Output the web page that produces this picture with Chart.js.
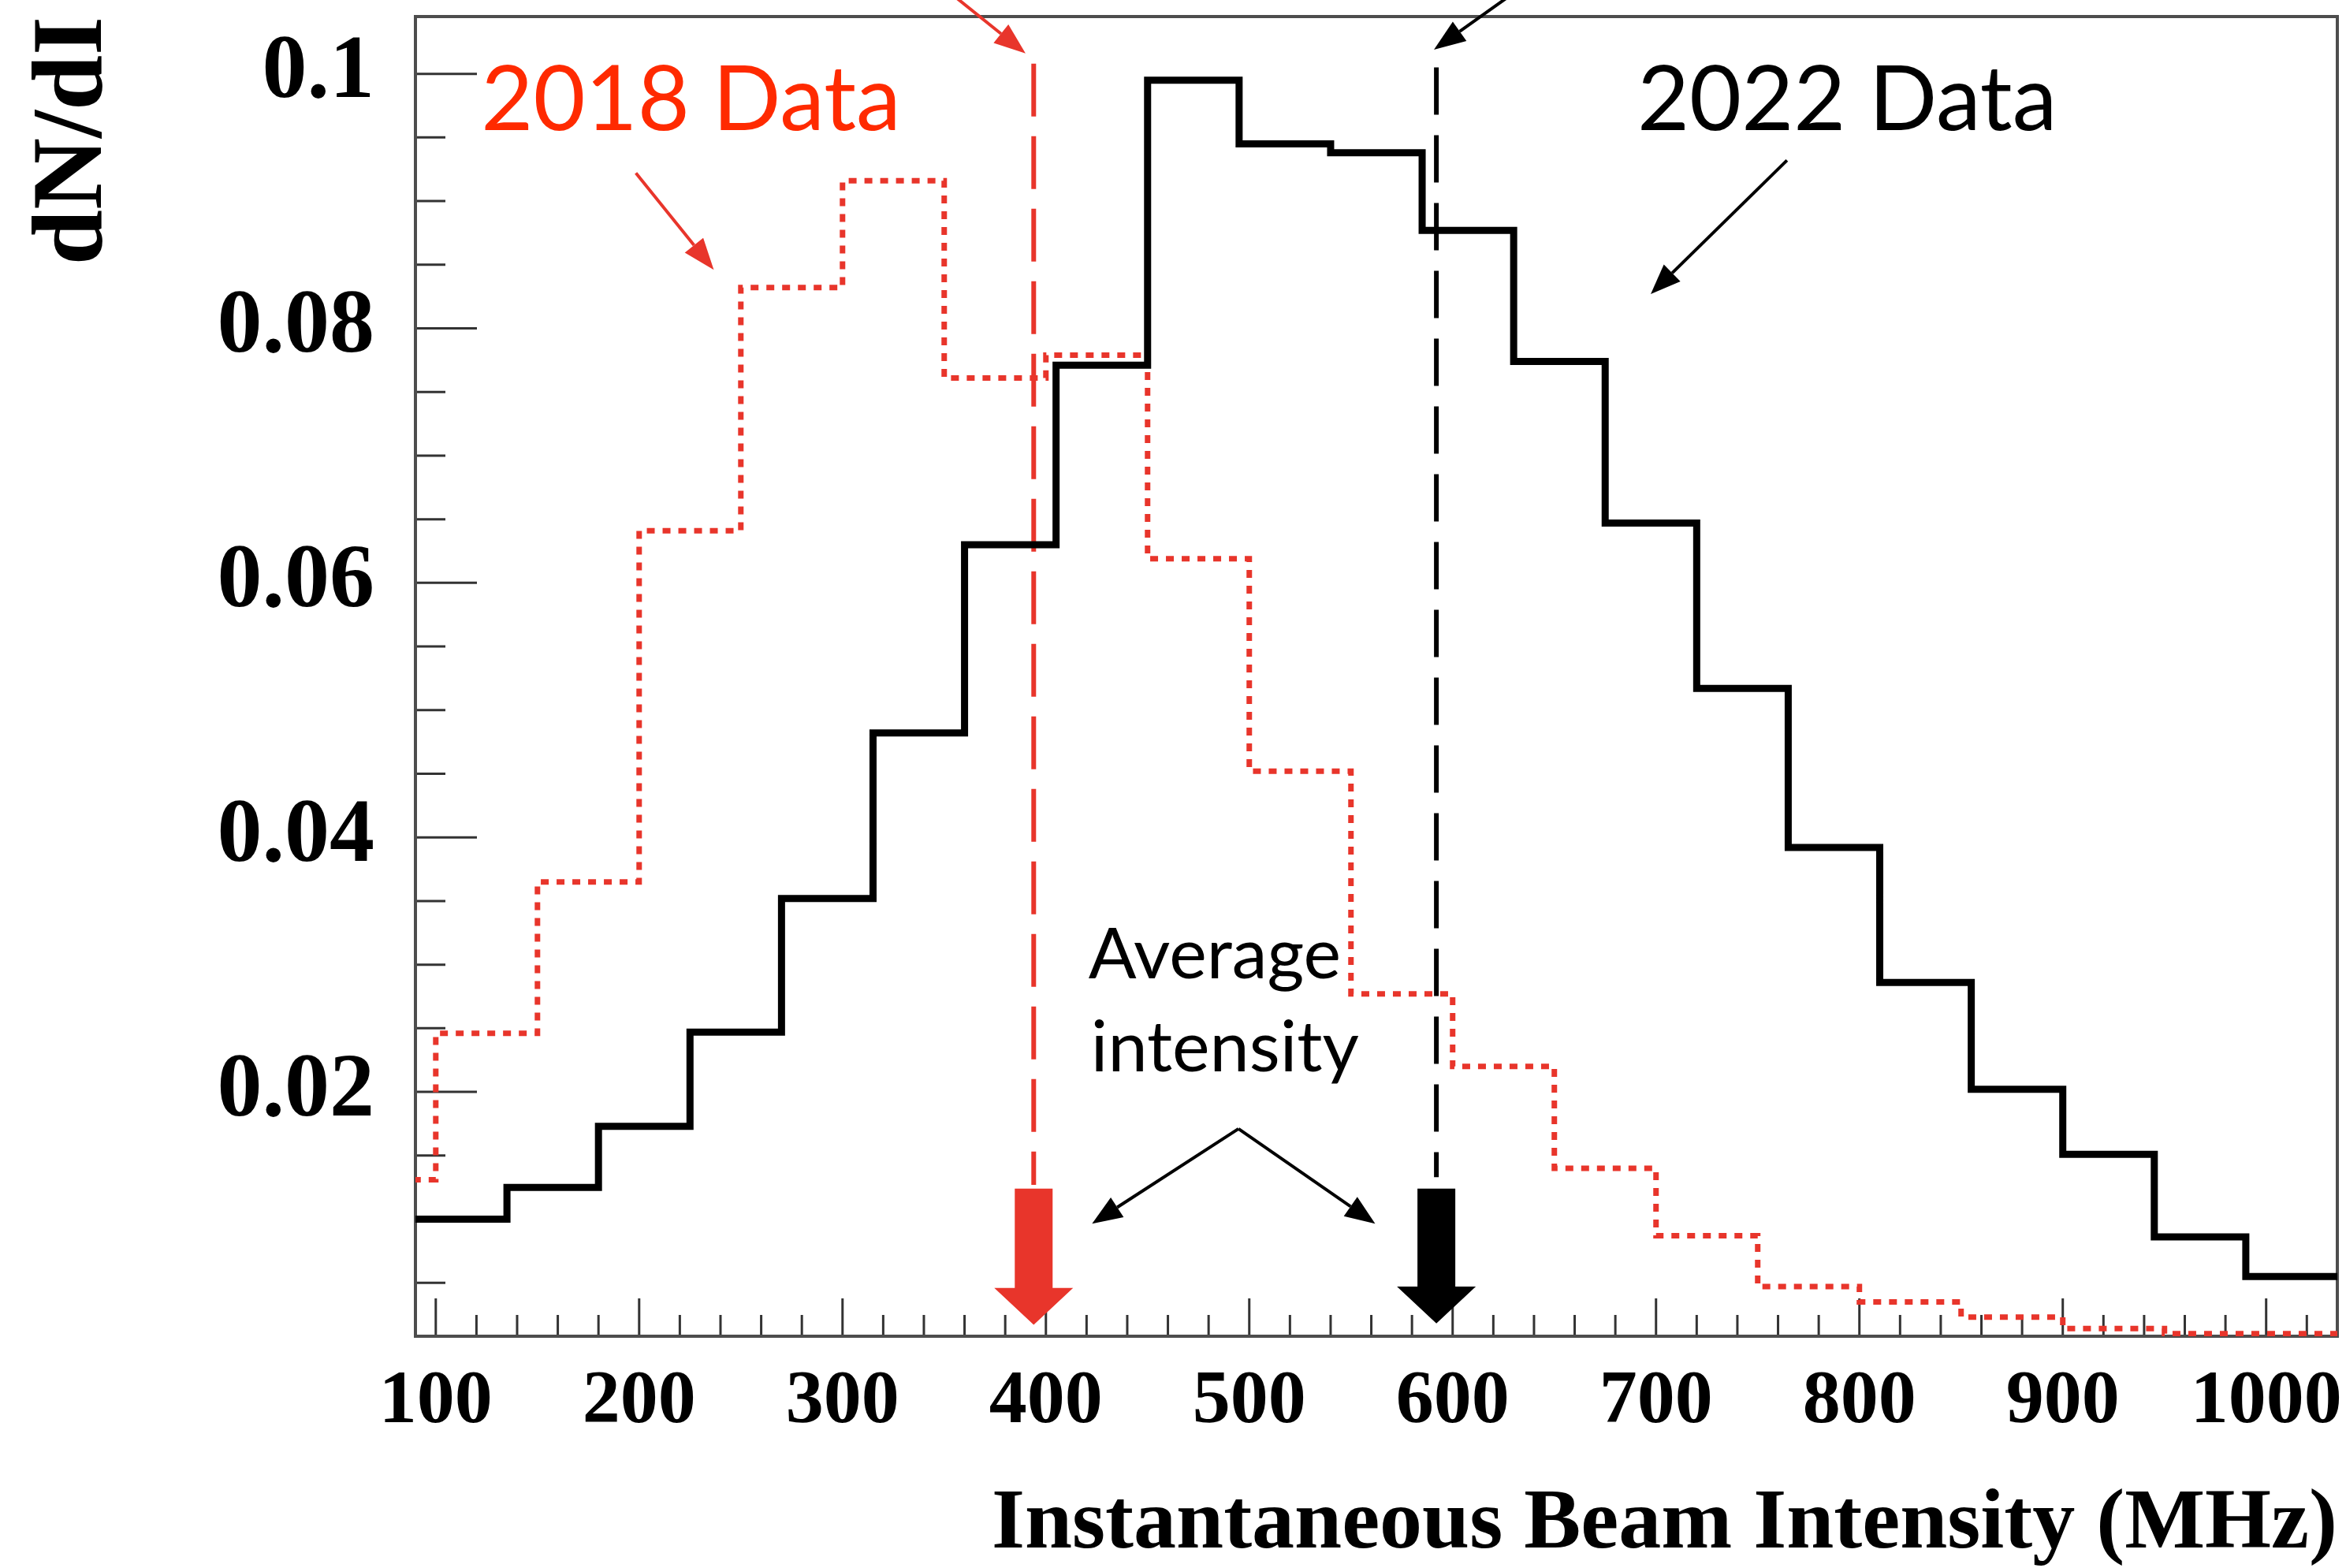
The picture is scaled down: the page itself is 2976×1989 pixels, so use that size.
<!DOCTYPE html>
<html>
<head>
<meta charset="utf-8">
<title>Instantaneous beam intensity</title>
<script src="https://cdn.jsdelivr.net/npm/chart.js@4.4.1/dist/chart.umd.min.js"></script>
<style>
  html, body { margin: 0; padding: 0; background: #fff; }
  #wrap { width: 2976px; height: 1989px; }
</style>
</head>
<body>
<div id="wrap"><canvas id="intensityChart"></canvas></div>
<script>
// 2022 run, 45 MHz bins
const binEdges2022 = [90, 135, 180, 225, 270, 315, 360, 405, 450, 495, 540, 585, 630, 675, 720, 765, 810, 855, 900, 945, 990, 1035];
const dNdI2022 = [0.0100, 0.0125, 0.0173, 0.0247, 0.0352, 0.0482, 0.0630, 0.0771, 0.0995, 0.0945, 0.0938,
                  0.0877, 0.0774, 0.0647, 0.0517, 0.0392, 0.0286, 0.0202, 0.0151, 0.0086, 0.0055];

// 2018 run, 50 MHz bins
const binEdges2018 = [50, 100, 150, 200, 250, 300, 350, 400, 450, 500, 550, 600, 650, 700, 750, 800, 850, 900, 950, 1000, 1050];
const dNdI2018 = [0.0131, 0.0246, 0.0365, 0.0641, 0.0832, 0.0916, 0.0761, 0.0779, 0.0619, 0.0452,
                  0.0277, 0.0220, 0.0140, 0.0087, 0.0047, 0.0035, 0.0023, 0.0014, 0.0010, 0.0010];

// mean intensity of each run (MHz)
const meanIntensity2018 = 394;
const meanIntensity2022 = 592;

const xTickValues = [100, 200, 300, 400, 500, 600, 700, 800, 900, 1000];
const xTickLabels = ['100', '200', '300', '400', '500', '600', '700', '800', '900', '1000'];
const yTickValues = [0.02, 0.04, 0.06, 0.08, 0.1];
const yTickLabels = ['0.02', '0.04', '0.06', '0.08', '0.1'];

const RED = '#e8352b';
const SERIF = '"Liberation Serif", "Times New Roman", serif';
const SANS = 'Lato, "Open Sans", sans-serif';

// histogram -> points at the left bin edges plus the closing edge
function histPoints(edges, values) {
  const pts = values.map((v, i) => ({ x: edges[i], y: v }));
  pts.push({ x: edges[edges.length - 1], y: values[values.length - 1] });
  return pts;
}

function isMultiple(v, step) {
  return Math.abs(v / step - Math.round(v / step)) < 1e-6;
}

function arrow(ctx, x0, y0, x1, y1, color, width, headLen, headWidth) {
  const a = Math.atan2(y1 - y0, x1 - x0);
  const bx = x1 - headLen * Math.cos(a), by = y1 - headLen * Math.sin(a);
  ctx.strokeStyle = color;
  ctx.lineWidth = width;
  ctx.beginPath();
  ctx.moveTo(x0, y0);
  ctx.lineTo(bx, by);
  ctx.stroke();
  ctx.fillStyle = color;
  ctx.beginPath();
  ctx.moveTo(x1, y1);
  ctx.lineTo(bx + headWidth / 2 * Math.sin(a), by - headWidth / 2 * Math.cos(a));
  ctx.lineTo(bx - headWidth / 2 * Math.sin(a), by + headWidth / 2 * Math.cos(a));
  ctx.closePath();
  ctx.fill();
}

function blockArrow(ctx, cx, yTop, yNeck, yTip, shaftHalf, headHalf, color) {
  ctx.fillStyle = color;
  ctx.beginPath();
  ctx.moveTo(cx - shaftHalf, yTop);
  ctx.lineTo(cx + shaftHalf, yTop);
  ctx.lineTo(cx + shaftHalf, yNeck);
  ctx.lineTo(cx + headHalf, yNeck);
  ctx.lineTo(cx, yTip);
  ctx.lineTo(cx - headHalf, yNeck);
  ctx.lineTo(cx - shaftHalf, yNeck);
  ctx.closePath();
  ctx.fill();
}

// ROOT-style frame with inward ticks on the left and bottom axes
const frameTicks = {
  id: 'frameTicks',
  beforeDatasetsDraw(chart) {
    const { ctx, chartArea: area, scales: { x, y } } = chart;
    ctx.save();
    ctx.strokeStyle = '#333';
    ctx.lineWidth = 3;
    ctx.beginPath();
    x.ticks.forEach(t => {
      const px = x.getPixelForValue(t.value);
      const len = isMultiple(t.value, 100) ? 48 : 27;
      ctx.moveTo(px, area.bottom);
      ctx.lineTo(px, area.bottom - len);
    });
    y.ticks.forEach(t => {
      const py = y.getPixelForValue(t.value);
      const len = isMultiple(t.value, 0.02) ? 78 : 38;
      ctx.moveTo(area.left, py);
      ctx.lineTo(area.left + len, py);
    });
    ctx.stroke();
    ctx.strokeStyle = '#4d4d4d';
    ctx.lineWidth = 4;
    ctx.strokeRect(area.left, area.top, area.right - area.left, area.bottom - area.top);
    ctx.restore();
  }
};

// labels, pointer arrows and mean-intensity markers
const notes = {
  id: 'notes',
  afterDatasetsDraw(chart) {
    const { ctx, scales: { x, y } } = chart;
    const px = v => x.getPixelForValue(v);
    const py = v => y.getPixelForValue(v);
    ctx.save();

    ctx.textAlign = 'left';
    ctx.textBaseline = 'alphabetic';
    ctx.font = '114px ' + SANS;
    ctx.fillStyle = '#ff2a00';
    ctx.fillText('2018 Data', px(122.3), py(0.0956));
    ctx.fillStyle = '#000';
    ctx.fillText('2022 Data', px(690.8), py(0.0956));

    ctx.font = '90px ' + SANS;
    ctx.fillText('Average', px(420.9), py(0.0289));
    ctx.fillText('intensity', px(422.1), py(0.0216));

    arrow(ctx, px(198.4), py(0.0922), px(236.7), py(0.0846), RED, 4, 40, 30);
    arrow(ctx, px(347.2), py(0.1071), px(390.0), py(0.1016), RED, 4, 40, 30);
    arrow(ctx, px(635.7), py(0.1070), px(590.8), py(0.1019), '#000', 4, 40, 30);
    arrow(ctx, px(764.4), py(0.0932), px(697.4), py(0.0827), '#000', 4, 38, 30);
    arrow(ctx, px(494.7), py(0.0171), px(422.7), py(0.00965), '#000', 4, 38, 30);
    arrow(ctx, px(494.7), py(0.0171), px(561.9), py(0.00965), '#000', 4, 38, 30);

    blockArrow(ctx, px(meanIntensity2018), py(0.0124), py(0.0046), py(0.0017), 24, 50, RED);
    blockArrow(ctx, px(meanIntensity2022), py(0.0124), py(0.0047), py(0.0018), 24, 50, '#000');
    ctx.restore();
  }
};

const xMinorTicks = [];
for (let v = 100; v <= 1020; v += 20) xMinorTicks.push(v);
const yMinorTicks = [];
for (let k = 1; k <= 20; k++) yMinorTicks.push(Math.round(k * 5) / 1000);

new Chart(document.getElementById('intensityChart'), {
  type: 'line',
  data: {
    datasets: [
      {
        label: '2022 Data',
        data: histPoints(binEdges2022, dNdI2022),
        stepped: 'before',
        borderColor: '#000',
        borderWidth: 9,
        borderJoinStyle: 'miter',
        pointRadius: 0,
        fill: false
      },
      {
        label: '2018 Data',
        data: histPoints(binEdges2018, dNdI2018),
        stepped: 'before',
        borderColor: RED,
        borderWidth: 7,
        borderDash: [10, 10],
        pointRadius: 0,
        fill: false
      },
      {
        label: 'Mean 2018',
        data: [{ x: meanIntensity2018, y: 0.1008 }, { x: meanIntensity2018, y: 0.0127 }],
        borderColor: RED,
        borderWidth: 6,
        borderDash: [67, 25],
        pointRadius: 0
      },
      {
        label: 'Mean 2022',
        data: [{ x: meanIntensity2022, y: 0.1005 }, { x: meanIntensity2022, y: 0.0133 }],
        borderColor: '#000',
        borderWidth: 6,
        borderDash: [60, 26],
        pointRadius: 0
      }
    ]
  },
  options: {
    responsive: true,
    maintainAspectRatio: false,
    animation: false,
    devicePixelRatio: 1,
    layout: { padding: { top: 21, right: 11, left: 0, bottom: 0 } },
    plugins: { legend: { display: false }, tooltip: { enabled: false } },
    scales: {
      x: {
        type: 'linear',
        min: 90,
        max: 1035,
        afterBuildTicks: s => { s.ticks = xMinorTicks.map(v => ({ value: v })); },
        afterFit: s => { s.height = 294; s.paddingLeft = 0; s.paddingRight = 0; },
        grid: { display: false, drawTicks: false },
        border: { display: false },
        ticks: {
          autoSkip: false,
          maxRotation: 0,
          padding: 27,
          color: '#000',
          font: { family: SERIF, size: 96, weight: 'bold' },
          callback: v => {
            const i = xTickValues.findIndex(t => Math.abs(t - v) < 1e-6);
            return i >= 0 ? xTickLabels[i] : '';
          }
        },
        title: {
          display: true,
          text: 'Instantaneous Beam Intensity (MHz)',
          align: 'end',
          color: '#000',
          padding: { top: 0, bottom: 0 },
          font: { family: SERIF, size: 108, weight: 'bold', lineHeight: 1 }
        }
      },
      y: {
        min: 0.0008,
        max: 0.1045,
        afterBuildTicks: s => { s.ticks = yMinorTicks.filter(v => v <= 0.1045).map(v => ({ value: v })); },
        afterFit: s => { s.width = 527; s.paddingTop = 0; s.paddingBottom = 0; },
        grid: { display: false, drawTicks: false },
        border: { display: false },
        ticks: {
          autoSkip: false,
          padding: 52,
          color: '#000',
          font: { family: SERIF, size: 114, weight: 'bold' },
          callback: v => {
            const i = yTickValues.findIndex(t => Math.abs(t - v) < 1e-6);
            return i >= 0 ? yTickLabels[i] : '';
          }
        },
        title: {
          display: true,
          text: 'dN/dI',
          align: 'end',
          color: '#000',
          padding: { top: 20, bottom: 0 },
          font: { family: SERIF, size: 126, weight: 'bold' }
        }
      }
    }
  },
  plugins: [frameTicks, notes]
});
</script>
</body>
</html>
